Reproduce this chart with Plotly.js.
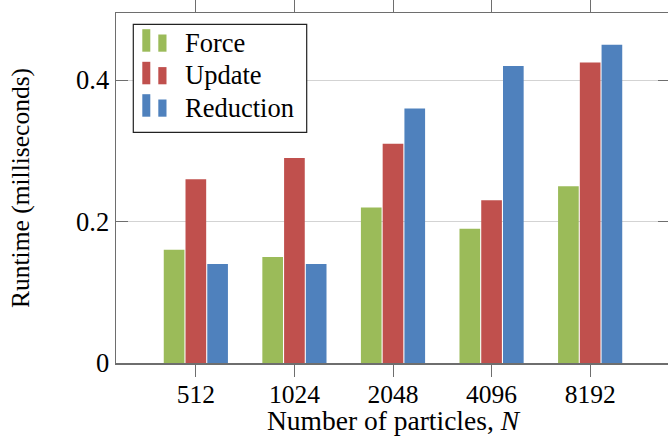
<!DOCTYPE html>
<html>
<head>
<meta charset="utf-8">
<script src="https://cdn.plot.ly/plotly-3.0.1.min.js"></script>
<style>
html,body{margin:0;padding:0;overflow:hidden;background:#fff;}
#chart{width:672px;height:436px;}
</style>
</head>
<body>
<div id="chart"></div>
<script>
const categories = ["512", "1024", "2048", "4096", "8192"];
const forceValues = [0.16, 0.15, 0.22, 0.19, 0.25];
const updateValues = [0.26, 0.29, 0.31, 0.23, 0.425];
const reductionValues = [0.14, 0.14, 0.36, 0.42, 0.45];
const seriesNames = ["Force", "Update", "Reduction"];
const yTickValues = [0, 0.2, 0.4];
const yTickLabels = ["0", "0.2", "0.4"];

const colors = ["#9BBB59", "#C0504D", "#4F81BD"];
const series = [forceValues, updateValues, reductionValues];
const font = "'Liberation Serif', 'Times New Roman', serif";
const fs = 26.5;

const traces = series.map((vals, i) => ({
  type: "bar",
  name: seriesNames[i],
  x: categories,
  y: vals,
  marker: {color: colors[i], line: {width: 0}},
  hoverinfo: "skip",
  showlegend: false
}));

// plot-area geometry (pixels) for placing the hand-drawn legend
const W = 672, H = 436;
const M = {l: 116, r: 2, t: 13, b: 73};
const pw = W - M.l - M.r, ph = H - M.t - M.b;
const px = x => (x - M.l) / pw;
const py = y => (H - M.b - y) / ph;

const shapes = [];
const annotations = [];
shapes.push({type: "rect", xref: "paper", yref: "paper", layer: "above",
  x0: px(133.3), x1: px(306.7), y0: py(132.3), y1: py(24.3),
  line: {color: "#222", width: 1.2}, fillcolor: "#fff"});
const rowBase = [51.7, 84.3, 116.7];
seriesNames.forEach((name, i) => {
  const b = rowBase[i];
  shapes.push({type: "rect", xref: "paper", yref: "paper", layer: "above",
    x0: px(142.3), x1: px(150.3), y0: py(b), y1: py(b - 22.5),
    line: {width: 0}, fillcolor: colors[i]});
  shapes.push({type: "rect", xref: "paper", yref: "paper", layer: "above",
    x0: px(158.3), x1: px(166.5), y0: py(b), y1: py(b - 17.2),
    line: {width: 0}, fillcolor: colors[i]});
  annotations.push({xref: "paper", yref: "paper", x: px(182.5), y: py(b - 9),
    xanchor: "left", yanchor: "middle", showarrow: false, text: name,
    font: {family: font, size: fs, color: "#000"}});
});

const axisColor = "#6e6e6e";
const layout = {
  width: W,
  height: H,
  margin: M,
  paper_bgcolor: "#fff",
  plot_bgcolor: "#fff",
  font: {family: font, size: fs, color: "#000"},
  barmode: "group",
  bargap: 0.338,
  bargroupgap: 0.05,
  showlegend: false,
  shapes: shapes,
  annotations: annotations,
  xaxis: {
    type: "category",
    range: [-0.81, 4.81],
    showline: true, linecolor: axisColor, linewidth: 1.5,
    mirror: "ticks",
    ticks: "outside", ticklen: 12, tickcolor: axisColor, tickwidth: 1,
    ticklabelstandoff: -4,
    showgrid: false, zeroline: false,
    tickfont: {family: font, size: 25.5, color: "#000"},
    title: {text: "Number of particles, <i>N</i>", font: {family: font, size: 27.5, color: "#000"}, standoff: 10}
  },
  yaxis: {
    range: [0, 0.495],
    tickvals: yTickValues,
    ticktext: yTickLabels,
    showline: true, linecolor: axisColor, linewidth: 1.5,
    mirror: "ticks",
    ticks: "inside", ticklen: 12, tickcolor: axisColor, tickwidth: 1,
    showgrid: true, gridcolor: "#d3d3d3", gridwidth: 1,
    zeroline: false,
    tickfont: {family: font, size: fs, color: "#000"},
    title: {text: "Runtime (milliseconds)", font: {family: font, size: 25.5, color: "#000"}, standoff: 39}
  }
};

Plotly.newPlot("chart", traces, layout, {displayModeBar: false, staticPlot: true});
</script>
</body>
</html>
